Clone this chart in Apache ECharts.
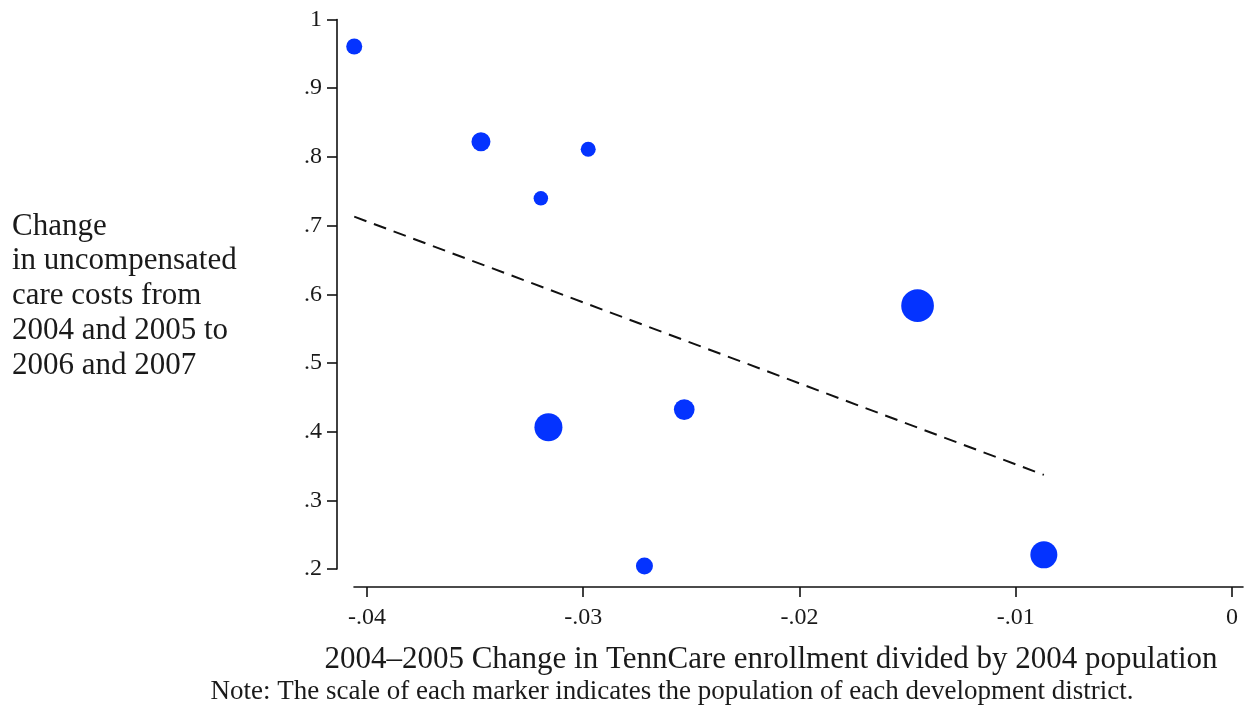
<!DOCTYPE html>
<html>
<head>
<meta charset="utf-8">
<script src="https://cdn.jsdelivr.net/npm/echarts@6/dist/echarts.min.js"></script>
<style>
html,body{margin:0;padding:0;background:#fff;}
#chart{width:1247px;height:709px;}
</style>
</head>
<body>
<div id="chart"></div>
<script>
// Development districts: x = 2004–2005 change in TennCare enrollment / 2004 population
const enrollChange = [-0.04059, -0.03473, -0.02977, -0.03196, -0.01454, -0.03161, -0.02533, -0.02717, -0.00870];
// y = change in uncompensated care costs
const uncompChange = [0.9607, 0.8221, 0.8110, 0.7397, 0.5834, 0.4064, 0.4321, 0.2045, 0.2206];
// district population (thousands)
const population = [307, 433, 270, 252, 1283, 941, 514, 347, 875];
// fitted line endpoints
const fitX = [-0.04059, -0.00870];
const fitY = [0.713, 0.337];
// tick labels
const xTicks = [-0.04, -0.03, -0.02, -0.01, 0];
const xTickLabels = ['-.04', '-.03', '-.02', '-.01', '0'];
const yTickLabels = ['.2', '.3', '.4', '.5', '.6', '.7', '.8', '.9', '1'];

const FONT = '"Liberation Serif", "DejaVu Serif", serif';
const TXT = '#1a1a1a';

const points = enrollChange.map((x, i) => [x, uncompChange[i], population[i]]);
const fitLine = fitX.map((x, i) => [x, fitY[i]]);

const chart = echarts.init(document.getElementById('chart'), null, {renderer: 'canvas'});
chart.setOption({
  animation: false,
  backgroundColor: '#fff',
  grid: [
    {left: 337, top: 19.5, width: 906, height: 549.5, containLabel: false},
    {left: 354, top: 19.5, width: 889, height: 567.5, containLabel: false}
  ],
  xAxis: [
    {gridIndex: 0, type: 'value', min: -0.041387, max: 0.000509, show: false},
    {
      gridIndex: 1, type: 'value', min: -0.040601, max: 0.000509,
      axisLine: {show: true, onZero: false, lineStyle: {color: '#111', width: 1.6}},
      axisTick: {show: true, length: 10, inside: false, customValues: xTicks, lineStyle: {color: '#111', width: 1.6}},
      axisLabel: {
        show: true, margin: 19, customValues: xTicks,
        fontFamily: FONT, fontSize: 24, color: TXT,
        formatter: v => xTickLabels[xTicks.findIndex(t => Math.abs(t - v) < 1e-9)] || ''
      },
      splitLine: {show: false}
    }
  ],
  yAxis: [
    {
      gridIndex: 0, type: 'value', min: 0.2, max: 1, interval: 0.1,
      axisLine: {show: true, onZero: false, lineStyle: {color: '#111', width: 1.6}},
      axisTick: {show: true, length: 10, lineStyle: {color: '#111', width: 1.6}},
      axisLabel: {
        show: true, margin: 15, fontFamily: FONT, fontSize: 24, color: TXT,
        formatter: v => yTickLabels[Math.round((v - 0.2) * 10)]
      },
      splitLine: {show: false}
    },
    {gridIndex: 1, type: 'value', min: 0, max: 1, show: false}
  ],
  series: [
    {
      type: 'line', xAxisIndex: 0, yAxisIndex: 0,
      data: fitLine, showSymbol: false, symbol: 'none',
      lineStyle: {color: '#111', width: 2, type: [13, 8]},
      silent: true, z: 2
    },
    {
      type: 'scatter', xAxisIndex: 0, yAxisIndex: 0,
      data: points,
      symbolSize: d => Math.sqrt(d[2] / 1.2),
      itemStyle: {color: '#0433ff', opacity: 1},
      z: 3
    }
  ],
  graphic: [
    {
      type: 'text', left: 12, top: 209,
      style: {
        text: 'Change\nin uncompensated\ncare costs from\n2004 and 2005 to\n2006 and 2007',
        font: '31px ' + FONT, fill: TXT, lineHeight: 34.8
      }
    },
    {
      type: 'text', x: 771, y: 660,
      style: {
        text: '2004–2005 Change in TennCare enrollment divided by 2004 population',
        font: '31px ' + FONT, fill: TXT, textAlign: 'center', textVerticalAlign: 'middle'
      }
    },
    {
      type: 'text', x: 672, y: 692,
      style: {
        text: 'Note: The scale of each marker indicates the population of each development district.',
        font: '27px ' + FONT, fill: TXT, textAlign: 'center', textVerticalAlign: 'middle'
      }
    }
  ]
});
</script>
</body>
</html>
